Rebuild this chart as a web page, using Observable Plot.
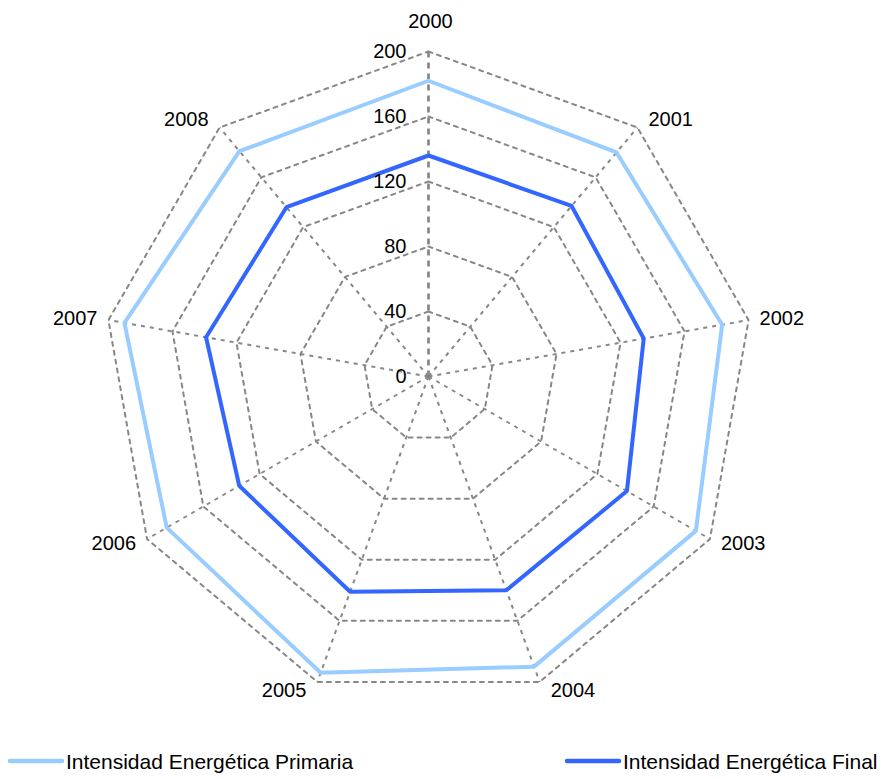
<!DOCTYPE html>
<html>
<head>
<meta charset="utf-8">
<script src="https://cdn.jsdelivr.net/npm/d3@7"></script>
<script src="https://cdn.jsdelivr.net/npm/@observablehq/plot@0.6"></script>
<style>
  html, body { margin: 0; padding: 0; background: #fff; }
  #chart { position: relative; width: 883px; height: 779px; font-family: "Liberation Sans", Arial, sans-serif; }
  svg { display: block; }
</style>
</head>
<body>
<div id="chart"></div>
<script>
const years = ["2000", "2001", "2002", "2003", "2004", "2005", "2006", "2007", "2008"];
const primaria = [182, 180, 183.5, 190, 190, 194, 186, 190, 181];
const finalSerie = [136, 137, 134.5, 141, 140, 141, 134.5, 139, 136];
const tickValues = [0, 40, 80, 120, 160, 200];
const seriesNames = ["Intensidad Energética Primaria", "Intensidad Energética Final"];
const seriesColors = ["#99CCFF", "#3366FF"];

const rMax = 200;
const n = years.length;
const ang = i => (i * 2 * Math.PI) / n;
const pt = (r, i) => ({ x: r * Math.sin(ang(i)), y: r * Math.cos(ang(i)) });

// ring polygons
const rings = [];
tickValues.filter(t => t > 0).forEach(t => {
  for (let i = 0; i <= n; i++) rings.push({ ring: t, ...pt(t, i % n) });
});
// spokes
const spokes = years.map((y, i) => ({ year: y, x1: 0, y1: 0, x2: pt(rMax, i).x, y2: pt(rMax, i).y, i }));
// series
const seriesData = [];
[primaria, finalSerie].forEach((vals, s) => {
  for (let i = 0; i <= n; i++) seriesData.push({ serie: seriesNames[s], ...pt(vals[i % n], i % n) });
});
// labels
const labels = years.map((y, i) => {
  const p = pt(rMax, i);
  const s = Math.sin(ang(i));
  const top = Math.abs(s) < 1e-6;
  return { year: y, x: p.x, y: top ? p.y : p.y + 6 * Math.cos(ang(i)), side: top ? "top" : (s > 0 ? "right" : "left") };
});
const tickLabels = tickValues.map(t => ({ x: 0, y: t, label: String(t) }));

const gridColor = "#878787";
const font = "Liberation Sans, Arial, sans-serif";

const plot = Plot.plot({
  width: 883,
  height: 720,
  marginLeft: 103,
  marginRight: 130,
  marginTop: 51,
  marginBottom: 19,
  style: { fontFamily: font, fontSize: "20px", background: "#fff", color: "#000" },
  x: { domain: [-rMax, rMax], axis: null },
  y: { domain: [-rMax, rMax], axis: null },
  marks: [
    Plot.line(rings, { x: "x", y: "y", z: "ring", stroke: gridColor, strokeWidth: 2, strokeDasharray: "4,5", curve: "linear-closed" }),
    Plot.link(spokes.filter(d => d.i !== 0), { x1: "x1", y1: "y1", x2: "x2", y2: "y2", stroke: gridColor, strokeWidth: 2, strokeDasharray: "4,5" }),
    Plot.link(spokes.filter(d => d.i === 0), { x1: "x1", y1: "y1", x2: "x2", y2: "y2", stroke: gridColor, strokeWidth: 2.7, strokeDasharray: "6,5" }),
    Plot.line(seriesData, { x: "x", y: "y", z: "serie", stroke: "serie", strokeWidth: 4, strokeLinejoin: "miter", curve: "linear-closed" }),
    Plot.text(tickLabels, { x: "x", y: "y", text: "label", textAnchor: "end", dx: -22, fontSize: 20, fill: "#000" }),
    Plot.text(labels.filter(d => d.side === "top"), { x: "x", y: "y", text: "year", textAnchor: "middle", dx: 2, dy: -30, fontSize: 20, fill: "#000" }),
    Plot.text(labels.filter(d => d.side === "right"), { x: "x", y: "y", text: "year", textAnchor: "start", dx: 11, fontSize: 20, fill: "#000" }),
    Plot.text(labels.filter(d => d.side === "left"), { x: "x", y: "y", text: "year", textAnchor: "end", dx: -11, fontSize: 20, fill: "#000" })
  ],
  color: { domain: seriesNames, range: seriesColors }
});

const chart = document.getElementById("chart");
chart.appendChild(plot);

// legend below the plot
const legend = d3.create("svg").attr("width", 883).attr("height", 59)
  .style("font-family", font).style("font-size", "21px");
const legendPos = [{ x1: 10, x2: 62, tx: 66 }, { x1: 567, x2: 619, tx: 623 }];
seriesNames.forEach((name, i) => {
  const p = legendPos[i];
  legend.append("line").attr("x1", p.x1).attr("x2", p.x2).attr("y1", 41).attr("y2", 41)
    .attr("stroke", seriesColors[i]).attr("stroke-width", 4.5).attr("stroke-linecap", "round");
  legend.append("text").attr("x", p.tx).attr("y", 48.5).attr("fill", "#000").text(name);
});
chart.appendChild(legend.node());
</script>
</body>
</html>
